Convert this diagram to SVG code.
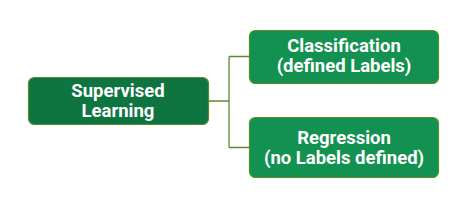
<svg xmlns="http://www.w3.org/2000/svg" width="471" height="209" viewBox="0 0 471 209">
<style>
.box{stroke:#5b8a2a;stroke-width:1.2}
.t{font-family:Roboto,"Liberation Sans",sans-serif;font-weight:bold;font-size:18.5px;fill:#ffffff;text-anchor:middle}
.c{fill:none;stroke:#5b8a2a;stroke-width:1.3}
</style>
<rect width="471" height="209" fill="#ffffff"/>
<g id="connectors">
<path class="c" d="M208 101 H229 M229 56.5 V147.5 M229 56.5 H249 M229 147.5 H249"/>
</g>
<g id="supervised">
<rect class="box" x="28.5" y="77.5" width="180" height="47" rx="6" fill="#0e7540"/>
<text class="t" x="118" y="97">Supervised</text>
<text class="t" x="118" y="117">Learning</text>
</g>
<g id="classification">
<rect class="box" x="249.5" y="30.5" width="189" height="53" rx="6" fill="#129150"/>
<text class="t" x="344" y="52">Classification</text>
<text class="t" x="344" y="72">(defined Labels)</text>
</g>
<g id="regression">
<rect class="box" x="249.5" y="117.5" width="189" height="60" rx="6" fill="#129150"/>
<text class="t" x="344" y="144">Regression</text>
<text class="t" x="344" y="164">(no Labels defined)</text>
</g>
</svg>
